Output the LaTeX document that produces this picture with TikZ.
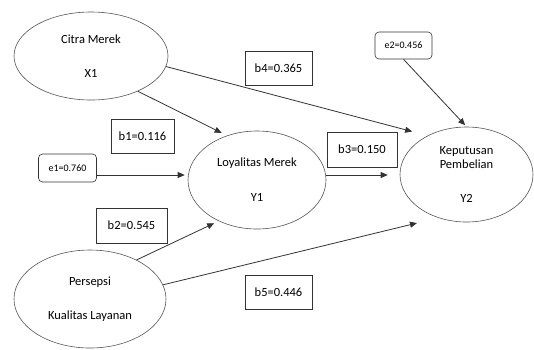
\documentclass[tikz,border=0pt]{standalone}
\usepackage{fontspec}
\setmainfont{Carlito}
\usetikzlibrary{shapes.geometric, arrows.meta, positioning}
\definecolor{linkGray}{HTML}{333333}
\definecolor{rimGray}{HTML}{555555}

\begin{document}
\begin{tikzpicture}[x=1pt, y=-1pt, font=\fontsize{12.5}{15}\selectfont,
  latent/.style={ellipse, draw=rimGray, line width=0.6pt, align=center, inner sep=0pt},
  coef/.style={draw=linkGray, line width=0.6pt, minimum width=67pt, minimum height=34pt, inner sep=0pt},
  resid/.style={draw=linkGray, rounded corners=4pt, line width=0.6pt, minimum width=58pt,
                minimum height=28pt, inner sep=0pt, font=\fontsize{10}{12}\selectfont},
  link/.style={draw=linkGray, line width=0.8pt, -{Triangle[length=7pt,width=6pt]}}]
  \useasboundingbox (0,0) rectangle (534,349);
  % variabel laten
  \node[latent, minimum width=154pt, minimum height=88pt] (citra) at (91,56) {Citra Merek\\[19pt]X1};
  \node[latent, minimum width=138pt, minimum height=98pt] (loyal) at (257,180) {Loyalitas Merek\\[20pt]Y1};
  \node[latent, minimum width=133pt, minimum height=95pt, font=\fontsize{12.5}{14}\selectfont]
    (keput) at (466.5,174.5) {Keputusan\\Pembelian\\[20pt]Y2};
  \node[latent, minimum width=152pt, minimum height=98pt] (persepsi) at (90,299) {Persepsi\\[19pt]Kualitas Layanan};
  % koefisien jalur
  \node[coef] (b4) at (278.5,68) {b4=0.365};
  \node[coef, minimum width=63pt] (b1) at (142.5,136) {b1=0.116};
  \node[coef, minimum width=71pt, minimum height=35pt] (b2) at (131.5,225.5) {b2=0.545};
  \node[coef, minimum width=70pt, minimum height=35pt] (b3) at (362,149.5) {b3=0.150};
  \node[coef] (b5) at (278.5,292) {b5=0.446};
  % galat
  \node[resid] (e1) at (67.5,168) {e1=0.760};
  \node[resid, minimum width=57pt, minimum height=27pt] (e2) at (403.5,45.5) {e2=0.456};
  % jalur
  \draw[link, shorten >=16pt] (citra.-8) -- (keput.135);
  \draw[link, shorten >=6pt] (citra.-37) -- (loyal.124);
  \draw[link, shorten >=3pt] ([yshift=-7pt]e1.east) -- ([yshift=-7pt]e1.east -| loyal.west);
  \draw[link, shorten >=12pt] ([yshift=5pt]loyal.east) -- ([yshift=5pt]loyal.east -| keput.west);
  \draw[link, shorten >=2pt] (e2.south) -- (keput.north);
  \draw[link, shorten >=5pt] (persepsi.40) -- (loyal.227);
  \draw[link, shorten >=22pt] (persepsi.11) -- (keput.237);
\end{tikzpicture}
\end{document}
